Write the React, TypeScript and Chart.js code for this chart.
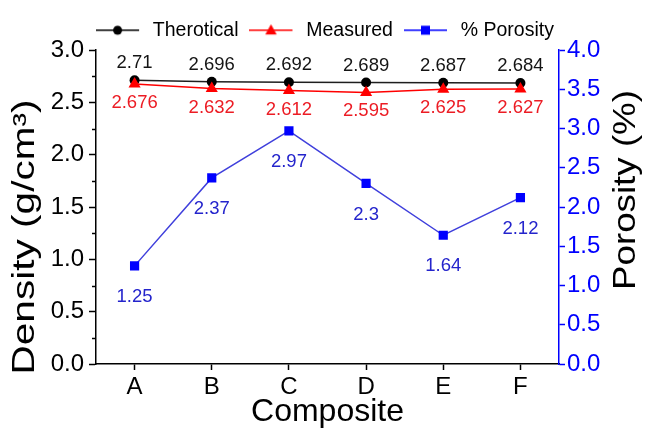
import React, { useEffect, useRef } from "react";
import { Chart, registerables } from "chart.js";

Chart.register(...registerables);

// ---- data ----
const categories = ["A", "B", "C", "D", "E", "F"];
const theoretical = [2.71, 2.696, 2.692, 2.689, 2.687, 2.684];
const measured = [2.676, 2.632, 2.612, 2.595, 2.625, 2.627];
const porosity = [1.25, 2.37, 2.97, 2.3, 1.64, 2.12];
const seriesNames = ["Therotical", "Measured", "% Porosity"];
const densityRange = [0, 3];
const porosityRange = [0, 4];
const tickStep = 0.5;
const xTitle = "Composite";
const yTitle = "Density (g/cm³)";
const y1Title = "Porosity (%)";

// ---- styles ----
const FONT = "'Liberation Sans', Arial, Helvetica, sans-serif";
const BLACK = "#000000";
const RED = "#ff0000";
const BLUE = "#0000ff";
const LABEL_COLORS = ["#141414", "#ec1c24", "#2424cc"];
const LABEL_OFFSETS = [-17, 19, 31];

function drawMarker(ctx: CanvasRenderingContext2D, style: string, x: number, y: number, r: number, color: string) {
  ctx.fillStyle = color;
  ctx.beginPath();
  if (style === "circle") {
    ctx.arc(x, y, r, 0, Math.PI * 2);
  } else if (style === "triangle") {
    ctx.moveTo(x, y - r);
    ctx.lineTo(x + r * 0.95, y + r * 0.7);
    ctx.lineTo(x - r * 0.95, y + r * 0.7);
    ctx.closePath();
  } else {
    ctx.rect(x - r, y - r, 2 * r, 2 * r);
  }
  ctx.fill();
}

function makeIcon(color: string, style: string, r: number) {
  const c = document.createElement("canvas");
  c.width = 47;
  c.height = 16;
  const ctx = c.getContext("2d")!;
  ctx.strokeStyle = color;
  ctx.lineWidth = 1.5;
  ctx.beginPath();
  ctx.moveTo(0, 8);
  ctx.lineTo(43, 8);
  ctx.stroke();
  drawMarker(ctx, style, 21.5, 8, r, color);
  return c;
}

function drawRotated(ctx: CanvasRenderingContext2D, text: string, cx: number, cy: number, len: number, size: number, color: string) {
  ctx.save();
  ctx.font = `${size}px ${FONT}`;
  const w = ctx.measureText(text).width;
  ctx.translate(cx, cy);
  ctx.rotate(-Math.PI / 2);
  ctx.scale(len / w, 1);
  ctx.textAlign = "center";
  ctx.textBaseline = "middle";
  ctx.fillStyle = color;
  ctx.fillText(text, 0, 0);
  ctx.restore();
}

const decorPlugin = {
  id: "decor",
  afterDatasetsDraw(chart: any) {
    const ctx = chart.ctx as CanvasRenderingContext2D;
    // data labels
    ctx.save();
    ctx.font = `18.5px ${FONT}`;
    ctx.textAlign = "center";
    ctx.textBaseline = "middle";
    chart.data.datasets.forEach((ds: any, i: number) => {
      const meta = chart.getDatasetMeta(i);
      ctx.fillStyle = LABEL_COLORS[i];
      meta.data.forEach((pt: any, j: number) => {
        ctx.fillText(String(ds.data[j]), pt.x, pt.y + LABEL_OFFSETS[i]);
      });
    });
    ctx.restore();
  },
  afterDraw(chart: any) {
    const ctx = chart.ctx as CanvasRenderingContext2D;
    const y = chart.scales.y;
    // minor ticks on left axis
    ctx.save();
    ctx.strokeStyle = BLACK;
    ctx.lineWidth = 1.5;
    for (let v = densityRange[0] + tickStep / 2; v < densityRange[1]; v += tickStep) {
      const py = Math.round(y.getPixelForValue(v)) + 0.5;
      ctx.beginPath();
      ctx.moveTo(y.right - 4, py);
      ctx.lineTo(y.right, py);
      ctx.stroke();
    }
    ctx.restore();
    // rotated axis titles
    drawRotated(ctx, yTitle, 25, 237, 275, 31, BLACK);
    drawRotated(ctx, y1Title, 626, 190, 200, 31, BLACK);
  },
};

export default function App() {
  const ref = useRef<HTMLCanvasElement>(null);

  useEffect(() => {
    document.body.style.margin = "0";
    const icons = [
      makeIcon(BLACK, "circle", 4.5),
      makeIcon(RED, "triangle", 6),
      makeIcon(BLUE, "rect", 4.5),
    ];
    const chart = new Chart(ref.current!, {
      type: "line",
      data: {
        labels: categories,
        datasets: [
          {
            label: seriesNames[0],
            data: theoretical,
            yAxisID: "y",
            borderColor: "#1e1e1e",
            borderWidth: 1.5,
            pointStyle: "circle",
            pointRadius: 5,
            pointBackgroundColor: BLACK,
            pointBorderColor: BLACK,
            pointBorderWidth: 0,
            order: 1,
          },
          {
            label: seriesNames[1],
            data: measured,
            yAxisID: "y",
            borderColor: RED,
            borderWidth: 1.5,
            pointStyle: "triangle",
            pointRadius: 7,
            pointBackgroundColor: RED,
            pointBorderColor: RED,
            pointBorderWidth: 0,
            order: 0,
          },
          {
            label: seriesNames[2],
            data: porosity,
            yAxisID: "y1",
            borderColor: "#4040dc",
            borderWidth: 1.5,
            pointStyle: "rect",
            pointRadius: 6.5,
            pointBackgroundColor: BLUE,
            pointBorderColor: BLUE,
            pointBorderWidth: 0,
            order: 2,
          },
        ],
      },
      options: {
        responsive: false,
        animation: false,
        devicePixelRatio: 1,
        layout: { padding: 0 },
        plugins: {
          tooltip: { enabled: false },
          legend: {
            display: true,
            position: "top",
            labels: {
              usePointStyle: true,
              pointStyleWidth: 47,
              padding: 11,
              color: BLACK,
              font: { size: 19.5, family: FONT },
              generateLabels: () =>
                seriesNames.map((t, i) => ({
                  text: t,
                  pointStyle: icons[i] as any,
                  fillStyle: "rgba(0,0,0,0)",
                  strokeStyle: "rgba(0,0,0,0)",
                  lineWidth: 0,
                  hidden: false,
                  datasetIndex: i,
                  fontColor: BLACK,
                })),
            },
          },
        },
        scales: {
          x: {
            type: "category",
            offset: true,
            grid: {
              display: true,
              drawOnChartArea: false,
              drawTicks: true,
              tickLength: 6,
              tickWidth: 1.5,
              tickColor: BLACK,
              offset: false,
            },
            border: { display: true, color: BLACK, width: 1.5 },
            ticks: { color: BLACK, font: { size: 24, family: FONT }, padding: 3, maxRotation: 0 },
            title: {
              display: true,
              text: xTitle,
              color: BLACK,
              font: { size: 32, family: FONT },
              padding: { top: 0, bottom: 9 },
            },
            afterFit: (s: any) => {
              s.height = 76;
              s.paddingLeft = 0;
              s.paddingRight = 0;
            },
          },
          y: {
            type: "linear",
            position: "left",
            min: densityRange[0],
            max: densityRange[1],
            grid: {
              display: true,
              drawOnChartArea: false,
              drawTicks: true,
              tickLength: 7,
              tickWidth: 1.5,
              tickColor: BLACK,
            },
            border: { display: true, color: BLACK, width: 1.5 },
            ticks: {
              stepSize: tickStep,
              color: BLACK,
              padding: 5,
              font: { size: 24, family: FONT },
              callback: (v: any) => Number(v).toFixed(1),
            },
            afterFit: (s: any) => {
              s.width = 96;
              s.paddingTop = 50;
              s.paddingBottom = 0;
            },
          },
          y1: {
            type: "linear",
            position: "right",
            min: porosityRange[0],
            max: porosityRange[1],
            grid: {
              display: true,
              drawOnChartArea: false,
              drawTicks: true,
              tickLength: 6,
              tickWidth: 1.5,
              tickColor: BLUE,
            },
            border: { display: true, color: BLUE, width: 1.5 },
            ticks: {
              stepSize: tickStep,
              color: BLUE,
              padding: 2,
              font: { size: 24, family: FONT },
              callback: (v: any) => Number(v).toFixed(1),
            },
            afterFit: (s: any) => {
              s.width = 91;
              s.paddingTop = 50;
              s.paddingBottom = 0;
            },
          },
        },
      },
      plugins: [decorPlugin],
    });
    return () => chart.destroy();
  }, []);

  return (
    <div style={{ width: 650, height: 440 }}>
      <canvas ref={ref} width={650} height={440} />
    </div>
  );
}
